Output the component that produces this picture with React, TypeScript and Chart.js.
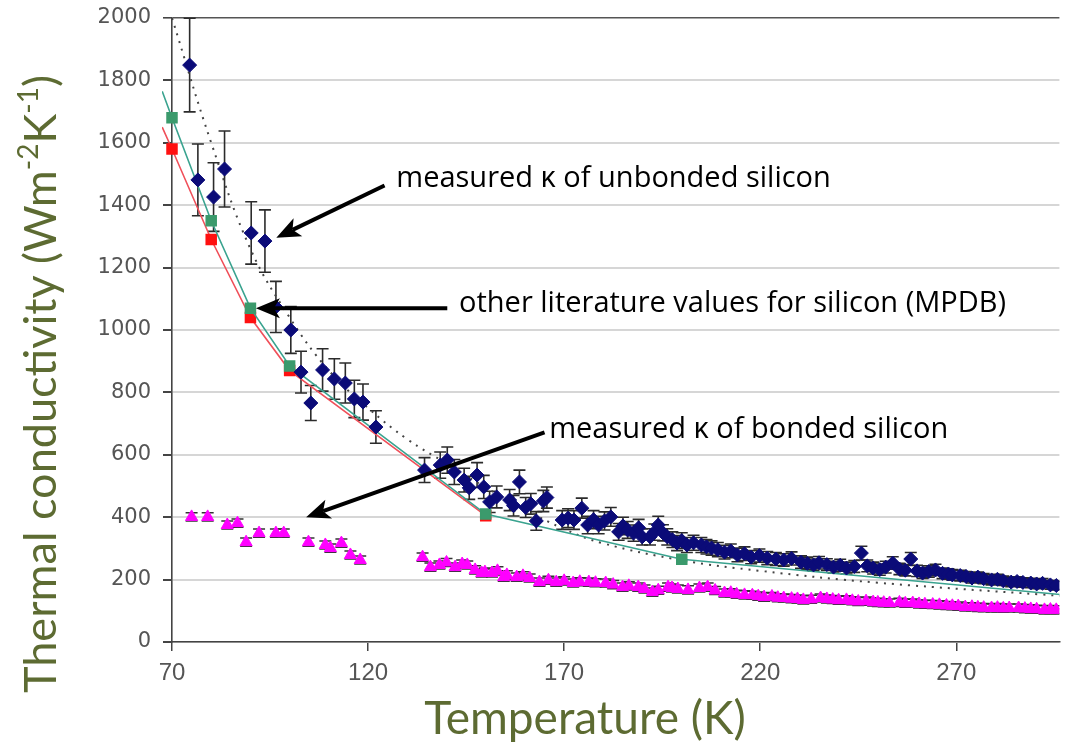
import React, { useEffect, useRef } from "react";
import { Chart, registerables } from "chart.js";
Chart.register(...registerables);

// ---------- data ----------
const xTicks = [70, 120, 170, 220, 270];
const X_MIN = 70;
const X_MAX = 296.3;
const Y_MIN = 0;
const Y_MAX = 2000;

// measured kappa of unbonded silicon (navy diamonds)
const unbondedT = [
  74.5, 76.6, 80.6, 83.4, 90.2, 93.7, 96.5, 100.3, 102.9, 105.4, 108.4, 111.4, 114.2, 116.5, 118.7, 122,
  134.4, 138.4, 140.2, 142, 144.5, 145.8, 147.8, 149.5, 151, 152.8, 156.1, 157.1, 158.6, 160.2, 161.5, 162.9,
  164.7, 165.6, 169.5, 171, 172.5, 174.5, 176, 177.5, 178.8, 180.3, 181.9, 183.9, 185, 186.2, 187.7, 189,
  189.9, 191.9, 193, 194, 195.2, 196.3, 197.6, 198.8, 200, 201.3, 203, 205, 206.3, 207.6, 209.2, 210.9,
  212.5, 214.2, 216, 217.7, 219.8, 221.8, 224, 226, 228, 230.4, 232, 233.6, 235, 237, 238.7, 240.4,
  242, 244, 245.8, 247.3, 248.8, 250.5, 252, 253.8, 255.5, 257, 258.4, 260, 261.4, 263, 264.7, 266.5,
  268, 269, 271, 272.5, 274, 275.5, 277, 279, 280.5, 282, 284, 285.5, 287, 289, 290.5, 292, 294, 295.5,
];
const unbondedK = [
  1849, 1481, 1426, 1516, 1311, 1285, 1074, 1000, 865, 766, 872, 843, 830, 779, 769, 689,
  551, 567, 583, 545, 519, 494, 535, 497, 449, 465, 455, 437, 513, 431, 443, 388,
  452, 463, 391, 397, 391, 429, 375, 392, 375, 388, 401, 353, 372, 359, 349, 366,
  337, 337, 352, 375, 350, 337, 328, 317, 325, 311, 318, 311, 305, 301, 296, 288,
  292, 279, 283, 272, 277, 269, 266, 263, 268, 256, 252, 247, 254, 248, 240, 246,
  237, 242, 285, 244, 237, 232, 240, 253, 234, 230, 266, 228, 221, 226, 231, 220,
  218, 215, 213, 210, 205, 208, 203, 199, 201, 196, 192, 194, 191, 189, 186, 188, 183, 181,
];
const unbondedErr = [
  150, 115, 110, 122, 100, 100, 82, 75, 67, 56, 68, 65, 64, 60, 58, 52,
  40, 42, 42, 40, 38, 37, 40, 37, 34, 35, 34, 33, 38, 32, 33, 30,
  34, 34, 30, 30, 30, 32, 28, 29, 28, 29, 30, 27, 28, 27, 26, 27,
  26, 26, 26, 28, 26, 26, 25, 24, 25, 24, 24, 24, 23, 23, 23, 22,
  22, 22, 22, 21, 21, 21, 21, 20, 21, 20, 20, 19, 20, 19, 19, 19,
  19, 19, 22, 19, 19, 18, 19, 20, 18, 18, 21, 18, 17, 18, 18, 17,
  17, 17, 17, 16, 16, 16, 16, 16, 16, 15, 15, 15, 15, 15, 15, 15, 14, 14,
];

// measured kappa of bonded silicon (magenta triangles)
const bondedT = [
  75, 79.1, 84.1, 86.7, 88.9, 92.2, 96.5, 98.5, 104.8, 109.1, 110.4, 113.2, 115.5, 118,
  133.9, 135.9, 138.2, 140, 142.2, 144, 145.3, 147.3, 149, 149.8, 151.6, 153, 154.6, 155.4, 157.9, 159.5,
  161.2, 163.7, 166, 168, 170, 172.3, 174, 176.3, 178, 180.6, 182.5, 184.9, 186.5, 188.9, 190.5, 192.5,
  194, 196.5, 197.5, 199, 201.6, 204.5, 206.6, 208.5, 210.9, 212.5, 214, 216, 218, 219.5, 221, 223,
  224.5, 226, 228, 229.5, 231, 233, 235.4, 237, 238.5, 240, 242, 243.5, 245, 247, 248.8, 250,
  251.5, 253, 255.5, 257, 258.9, 260.5, 262, 264, 265.7, 267.5, 269, 270.5, 272.3, 274, 275.5, 277,
  279, 280.5, 282, 283.5, 285.9, 287.5, 289, 290.5, 292.5, 294, 295.5,
];
const bondedK = [
  401, 401, 375, 381, 320, 349, 349, 349, 320, 311, 301, 317, 279, 263,
  272, 240, 247, 255, 240, 250, 247, 231, 221, 224, 221, 228, 208, 215, 208, 212,
  205, 192, 198, 192, 196, 189, 193, 192, 190, 189, 184, 176, 180, 176, 170, 160,
  166, 176, 173, 170, 167, 173, 176, 165, 157, 158, 153, 151, 150, 147, 144, 146,
  142, 141, 139, 138, 135, 137, 141, 138, 136, 134, 135, 132, 130, 131, 128, 127,
  126, 125, 127, 124, 125, 122, 121, 120, 119, 117, 116, 115, 112, 113, 111, 110,
  109, 110, 108, 109, 109, 107, 106, 105, 103, 104, 103,
];
const BONDED_ERR = 13;

// other literature values for silicon (MPDB) - green squares, teal line
const mpdbT = [67.5, 70, 80, 90, 100, 150, 200, 300];
const mpdbK = [1765, 1680, 1350, 1070, 885, 410, 265, 148];
const mpdbMarker = [false, true, true, true, true, true, true, true];

// second literature set - red squares
const redT = [67.5, 70, 80, 90, 100, 150];
const redK = [1650, 1580, 1290, 1040, 870, 405];
const redMarker = [false, true, true, true, true, true];

// dotted fit curve
const fitT = [70, 80, 90, 100, 110, 120, 130, 140, 150, 160, 170, 180, 200, 220, 250, 300];
const fitK = [2000, 1600, 1260, 1040, 870, 750, 650, 572, 495, 425, 362, 316, 262, 228, 190, 145];

// annotations (data coordinates)
const notes = [
  { text: "measured \u03ba of unbonded silicon", tx: 127.2, ty: 1485, fx: 124.2, fy: 1463, hx: 96.6, hy: 1296 },
  { text: "other literature values for silicon (MPDB)", tx: 143.2, ty: 1085, fx: 140.2, fy: 1070, hx: 91.4, hy: 1070 },
  { text: "measured \u03ba of bonded silicon", tx: 166.2, ty: 680, fx: 165, fy: 672, hx: 104.2, hy: 400 },
];

const Y_TITLE = [
  { t: "Thermal conductivity (Wm", sup: false },
  { t: "-2", sup: true },
  { t: "K", sup: false },
  { t: "-1", sup: true },
  { t: ")", sup: false },
];
const X_TITLE = "Temperature (K)";

const TITLE_COLOR = "#5d6b32";
const TITLE_FONT = "Lato, 'Open Sans', sans-serif";
const NOTE_FONT = "'Open Sans', 'Noto Sans', sans-serif";

const pts = (xs: number[], ys: number[]) => xs.map((x, i) => ({ x, y: ys[i] }));

function drawArrow(ctx: CanvasRenderingContext2D, x1: number, y1: number, x2: number, y2: number) {
  const ang = Math.atan2(y2 - y1, x2 - x1);
  const L = 24;
  const W = 10;
  const bx = x2 - Math.cos(ang) * L * 0.75;
  const by = y2 - Math.sin(ang) * L * 0.75;
  ctx.save();
  ctx.strokeStyle = "#000";
  ctx.fillStyle = "#000";
  ctx.lineWidth = 4;
  ctx.lineCap = "butt";
  ctx.beginPath();
  ctx.moveTo(x1, y1);
  ctx.lineTo(bx, by);
  ctx.stroke();
  const px = -Math.sin(ang);
  const py = Math.cos(ang);
  const backx = x2 - Math.cos(ang) * L;
  const backy = y2 - Math.sin(ang) * L;
  ctx.beginPath();
  ctx.moveTo(x2, y2);
  ctx.lineTo(backx + px * W, backy + py * W);
  ctx.lineTo(bx, by);
  ctx.lineTo(backx - px * W, backy - py * W);
  ctx.closePath();
  ctx.fill();
  ctx.restore();
}

const errorBarPlugin = {
  id: "errorBars",
  beforeDatasetsDraw(chart: any) {
    const { ctx, chartArea, scales } = chart;
    const xs = scales.x;
    const ys = scales.y;
    ctx.save();
    ctx.beginPath();
    ctx.rect(chartArea.left, chartArea.top - 2, chartArea.right - chartArea.left, chartArea.bottom - chartArea.top + 2);
    ctx.clip();
    const sets = [
      { T: unbondedT, K: unbondedK, E: unbondedErr, cap: 6, color: "#2b2b2b", w: 1.6 },
      { T: bondedT, K: bondedK, E: bondedT.map(() => BONDED_ERR), cap: 6, color: "#333", w: 1.5 },
    ];
    for (const s of sets) {
      ctx.strokeStyle = s.color;
      ctx.lineWidth = s.w;
      for (let i = 0; i < s.T.length; i++) {
        const x = xs.getPixelForValue(s.T[i]);
        const yt = ys.getPixelForValue(s.K[i] + s.E[i]);
        const yb = ys.getPixelForValue(s.K[i] - s.E[i]);
        ctx.beginPath();
        ctx.moveTo(x, yt);
        ctx.lineTo(x, yb);
        ctx.moveTo(x - s.cap, yt);
        ctx.lineTo(x + s.cap, yt);
        ctx.moveTo(x - s.cap, yb);
        ctx.lineTo(x + s.cap, yb);
        ctx.stroke();
      }
    }
    ctx.restore();
  },
};

const decorPlugin = {
  id: "decor",
  afterDraw(chart: any) {
    const { ctx, scales } = chart;
    const xs = scales.x;
    const ys = scales.y;
    // annotations
    ctx.save();
    for (const n of notes) {
      drawArrow(ctx, xs.getPixelForValue(n.fx), ys.getPixelForValue(n.fy), xs.getPixelForValue(n.hx), ys.getPixelForValue(n.hy));
      ctx.fillStyle = "#000";
      ctx.font = `29px ${NOTE_FONT}`;
      ctx.textAlign = "left";
      ctx.textBaseline = "middle";
      ctx.fillText(n.text, xs.getPixelForValue(n.tx), ys.getPixelForValue(n.ty));
    }
    ctx.restore();

    // y title (rotated, with superscripts)
    ctx.save();
    const big = `45px ${TITLE_FONT}`;
    const small = `28px ${TITLE_FONT}`;
    let total = 0;
    for (const s of Y_TITLE) {
      ctx.font = s.sup ? small : big;
      total += ctx.measureText(s.t).width;
    }
    ctx.translate(41, 384);
    ctx.rotate(-Math.PI / 2);
    ctx.fillStyle = TITLE_COLOR;
    ctx.textBaseline = "middle";
    ctx.textAlign = "left";
    let cx = -total / 2;
    for (const s of Y_TITLE) {
      ctx.font = s.sup ? small : big;
      ctx.fillText(s.t, cx, s.sup ? -12 : 0);
      cx += ctx.measureText(s.t).width;
    }
    ctx.restore();

    // x title
    ctx.save();
    ctx.fillStyle = TITLE_COLOR;
    ctx.font = `46px ${TITLE_FONT}`;
    ctx.textAlign = "center";
    ctx.textBaseline = "middle";
    ctx.fillText(X_TITLE, 585, 719);
    ctx.restore();
  },
};

export default function App() {
  const ref = useRef<HTMLCanvasElement | null>(null);
  useEffect(() => {
    document.body.style.margin = "0";
    const canvas = ref.current;
    if (!canvas) return;
    const chart = new Chart(canvas, {
      type: "scatter",
      data: {
        datasets: [
          {
            label: "unbonded",
            data: pts(unbondedT, unbondedK),
            pointStyle: "rectRot",
            pointRadius: 7,
            backgroundColor: "#0b0b78",
            borderColor: "#0b0b78",
            borderWidth: 1,
            showLine: false,
          },
          {
            label: "bonded",
            data: pts(bondedT, bondedK),
            pointStyle: "triangle",
            pointRadius: 7,
            backgroundColor: "#ff00ff",
            borderColor: "#ff00ff",
            borderWidth: 1,
            showLine: false,
          },
          {
            label: "MPDB",
            data: pts(mpdbT, mpdbK),
            showLine: true,
            borderColor: "#3aa38f",
            borderWidth: 1.6,
            pointStyle: "rect",
            pointRadius: mpdbMarker.map((m) => (m ? 7 : 0)),
            backgroundColor: "#3b9a6c",
            pointBorderColor: "#3b9a6c",
            clip: { left: 10, top: 0, right: 0, bottom: 0 },
          } as any,
          {
            label: "literature",
            data: pts(redT, redK),
            showLine: true,
            borderColor: "#f0505a",
            borderWidth: 1.6,
            pointStyle: "rect",
            pointRadius: redMarker.map((m) => (m ? 7 : 0)),
            backgroundColor: "#ff1010",
            pointBorderColor: "#ff1010",
            clip: { left: 10, top: 0, right: 0, bottom: 0 },
          } as any,
          {
            label: "fit",
            data: pts(fitT, fitK),
            showLine: true,
            borderColor: "#444",
            borderWidth: 2,
            borderDash: [2, 6],
            pointRadius: 0,
            tension: 0.4,
          } as any,
        ],
      },
      options: {
        animation: false,
        responsive: true,
        maintainAspectRatio: false,
        layout: { padding: { top: 18, right: 0, left: 0, bottom: 0 } },
        plugins: { legend: { display: false }, tooltip: { enabled: false } },
        scales: {
          x: {
            type: "linear",
            min: X_MIN,
            max: X_MAX,
            afterBuildTicks: (scale: any) => {
              scale.ticks = xTicks.map((v) => ({ value: v }));
            },
            afterFit: (scale: any) => {
              scale.height = 104;
              scale.paddingLeft = 0;
              scale.paddingRight = 0;
            },
            grid: { drawOnChartArea: false, drawTicks: true, tickLength: 9, tickColor: "#444", lineWidth: 1.5 },
            border: { display: true, color: "#444", width: 1.6 },
            ticks: {
              padding: 8,
              color: "#555",
              font: { family: "'Liberation Sans Narrow', 'Liberation Sans', Arial, sans-serif", size: 24 },
              maxRotation: 0,
              autoSkip: false,
              callback: (v: any) => String(v),
            },
          },
          y: {
            type: "linear",
            min: Y_MIN,
            max: Y_MAX,
            afterFit: (scale: any) => {
              scale.width = 172;
              scale.paddingTop = 0;
              scale.paddingBottom = 0;
            },
            grid: {
              color: (c: any) => (c.tick && c.tick.value === 2000 ? "#555" : "#d6d6d6"),
              lineWidth: (c: any) => (c.tick && c.tick.value === 2000 ? 1.6 : 2),
              drawTicks: true,
              tickLength: 9,
              tickColor: "#444",
            },
            border: { display: true, color: "#444", width: 1.6 },
            ticks: {
              stepSize: 200,
              padding: 12,
              color: "#555",
              font: { family: "'DejaVu Sans', sans-serif", size: 21 },
              callback: (v: any) => String(v),
            },
          },
        },
      },
      plugins: [errorBarPlugin, decorPlugin],
    } as any);
    return () => chart.destroy();
  }, []);
  return (
    <div style={{ position: "relative", width: 1068, height: 746 }}>
      <canvas ref={ref} />
    </div>
  );
}
